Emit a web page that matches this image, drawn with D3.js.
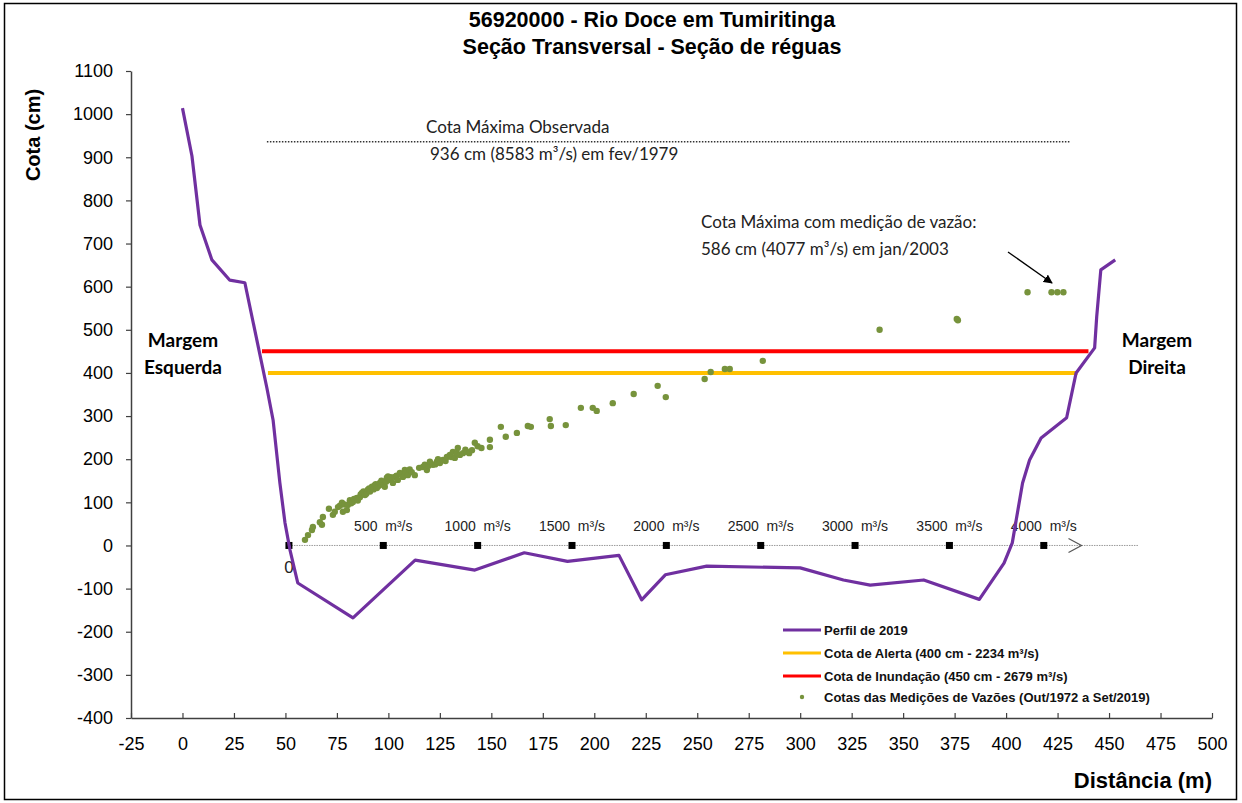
<!DOCTYPE html>
<html>
<head>
<meta charset="utf-8">
<script src="https://cdn.jsdelivr.net/npm/d3@7"></script>
<style>
body { margin: 0; background: #fff; }
text { font-family: "Liberation Sans", Arial, sans-serif; }
.calibri { font-family: Lato, "Open Sans", sans-serif; }
</style>
</head>
<body>
<script>
// perfil transversal de 2019 (distancia em m, cota em cm)
var distancia = [0, 4.6, 8.5, 14.3, 23, 30.3, 41, 44, 47.3, 49.8, 52.2, 56, 82.8, 113, 142, 166, 187, 212, 223, 234.5, 254.6, 300, 321, 334, 360, 387, 399, 403, 408, 411.4, 417, 429.4, 434, 443, 444, 446, 453];
var cotaPerfil = [1014, 903, 743, 662, 615, 609, 365, 291, 145, 52, -10, -87, -168, -34, -57, -17, -37, -23, -126, -68, -48, -52, -80, -92, -80, -125, -41, 6, 145, 198, 249, 296, 400, 458, 530, 639, 662];

// medicoes de vazao: [vazao m3/s, cota cm]
var medicoes = [
  [85,13],[101,24],[122,36],[127,43],[164,54],[175,48],[180,66],[212,85],[233,71],[243,78],
  [260,89],[270,92],[281,99],[286,78],[295,95],[307,82],[312,94],[323,105],[330,98],[339,101],
  [345,108],[360,110],[365,104],[376,112],[380,118],[387,122],[395,125],[403,117],[410,120],[418,129],
  [425,132],[430,125],[440,136],[448,130],[455,140],[460,142],[466,133],[475,138],[482,145],[490,150],
  [498,147],[500,140],[508,136],[515,148],[519,157],[525,160],[535,152],[540,158],[551,145],[561,159],
  [570,162],[577,152],[588,168],[595,165],[604,159],[614,175],[620,170],[630,163],[640,176],[651,170],
  [667,163],[690,180],[710,182],[720,187],[731,175],[740,185],[747,194],[763,187],[775,188],[784,194],
  [790,200],[800,191],[816,198],[830,196],[837,205],[853,210],[860,205],[869,217],[879,203],[890,214],
  [895,226],[906,210],[922,214],[935,222],[943,217],[955,214],[970,221],[985,238],[1000,230],[1020,226],
  [1065,245],[1065,228],[1123,275],[1149,252],[1208,261],[1266,277],[1282,275],[1382,293],[1388,277],[1467,279],
  [1547,319],[1610,319],[1631,312],[1716,330],[1827,351],[1954,370],[1997,344],[2203,386],[2235,402],[2310,409],
  [2336,409],[2511,428],[3130,500],[3539,525],[3545,522],[3914,587],[4041,587],[4072,587],[4104,587]
];

var cotaAlerta = 400, cotaInundacao = 450, cotaMaxObs = 936;
var xTicks = [-25, 0, 25, 50, 75, 100, 125, 150, 175, 200, 225, 250, 275, 300, 325, 350, 375, 400, 425, 450, 475, 500];
var yTicks = [-400, -300, -200, -100, 0, 100, 200, 300, 400, 500, 600, 700, 800, 900, 1000, 1100];
var vazaoTicks = [500, 1000, 1500, 2000, 2500, 3000, 3500, 4000];

var W = 1242, H = 803;
var svg = d3.select("body").append("svg")
  .attr("width", W).attr("height", H);

svg.append("rect")
  .attr("x", 4.5).attr("y", 3.5).attr("width", 1232).attr("height", 796)
  .attr("fill", "none").attr("stroke", "#000").attr("stroke-width", 1.5);

var x = d3.scaleLinear().domain([-25, 500]).range([131, 1212]);
var y = d3.scaleLinear().domain([-400, 1100]).range([718, 71]);
// eixo das vazoes, desenhado sobre a cota zero
var xq = d3.scaleLinear().domain([0, 4000]).range([x(51.7), x(418.3)]);

var plain = function(d) { return String(d); };

// axes
var gx = svg.append("g").attr("transform", "translate(0," + y(-400) + ")")
  .call(d3.axisBottom(x).tickValues(xTicks).tickFormat(plain).tickSizeInner(-5).tickSizeOuter(0).tickPadding(19));
var gy = svg.append("g").attr("transform", "translate(" + x(-25) + ",0)")
  .call(d3.axisLeft(y).tickValues(yTicks).tickFormat(plain).tickSizeInner(5).tickSizeOuter(0).tickPadding(13));
[gx, gy].forEach(function(g) {
  g.select(".domain").attr("stroke", "#404040").attr("stroke-width", 1.5);
  g.selectAll(".tick line").attr("stroke", "#404040").attr("stroke-width", 1.2);
  g.selectAll(".tick text").attr("font-size", 18).attr("fill", "#000")
    .style("font-family", "'Liberation Sans', Arial, sans-serif");
});

// titles
svg.append("text").attr("x", 652).attr("y", 27).attr("text-anchor", "middle")
  .attr("font-size", 21.5).attr("font-weight", "bold").text("56920000 - Rio Doce em Tumiritinga");
svg.append("text").attr("x", 652).attr("y", 54).attr("text-anchor", "middle")
  .attr("font-size", 21.5).attr("font-weight", "bold").text("Seção Transversal - Seção de réguas");
svg.append("text").attr("transform", "translate(40,135) rotate(-90)").attr("text-anchor", "middle")
  .attr("font-size", 20).attr("font-weight", "bold").text("Cota (cm)");
svg.append("text").attr("x", 1212).attr("y", 788).attr("text-anchor", "end")
  .attr("font-size", 22).attr("font-weight", "bold").text("Distância (m)");

// cota maxima observada
svg.append("line")
  .attr("x1", x(41)).attr("x2", x(431)).attr("y1", y(cotaMaxObs)).attr("y2", y(cotaMaxObs))
  .attr("stroke", "#333").attr("stroke-width", 1.5).attr("stroke-dasharray", "1.5,1.5");
svg.append("text").attr("class", "calibri").attr("x", 426).attr("y", 133)
  .attr("font-size", 17).attr("fill", "#222").text("Cota Máxima Observada");
svg.append("text").attr("class", "calibri").attr("x", 430).attr("y", 160)
  .attr("font-size", 17).attr("fill", "#222").text("936 cm (8583 m³/s) em fev/1979");

// flow axis
svg.append("line")
  .attr("x1", xq(0)).attr("x2", xq(4500)).attr("y1", y(0)).attr("y2", y(0))
  .attr("stroke", "#999").attr("stroke-width", 1).attr("stroke-dasharray", "1.5,1");
svg.append("path")
  .attr("d", "M" + (xq(4200) - 13) + "," + (y(0) - 7) + "L" + xq(4200) + "," + y(0) + "L" + (xq(4200) - 13) + "," + (y(0) + 7))
  .attr("fill", "none").attr("stroke", "#555").attr("stroke-width", 1.2);
svg.selectAll(".qsq").data([0].concat(vazaoTicks)).enter().append("rect")
  .attr("x", function(d) { return xq(d) - 3.5; }).attr("y", y(0) - 3.5)
  .attr("width", 7).attr("height", 7).attr("fill", "#000");
svg.selectAll(".qlab").data(vazaoTicks).enter().append("text")
  .attr("x", function(d) { return xq(d); }).attr("y", 531).attr("text-anchor", "middle")
  .attr("font-size", 14).attr("fill", "#222")
  .text(function(d) { return d + "  m³/s"; }).attr("xml:space", "preserve");
svg.append("text").attr("x", xq(0)).attr("y", 573).attr("text-anchor", "middle")
  .attr("font-size", 17).attr("fill", "#222").text("0");

// alert / flood lines
svg.append("line")
  .attr("x1", x(38.6)).attr("x2", x(440)).attr("y1", y(cotaInundacao)).attr("y2", y(cotaInundacao))
  .attr("stroke", "#ff0000").attr("stroke-width", 4);
svg.append("line")
  .attr("x1", x(41.5)).attr("x2", x(434.7)).attr("y1", y(cotaAlerta)).attr("y2", y(cotaAlerta))
  .attr("stroke", "#ffc000").attr("stroke-width", 4);

// profile
var line = d3.line().x(function(d) { return x(d[0]); }).y(function(d) { return y(d[1]); });
svg.append("path").datum(d3.zip(distancia, cotaPerfil))
  .attr("d", line).attr("fill", "none").attr("stroke", "#7030a0").attr("stroke-width", 3.2)
  .attr("stroke-linejoin", "round");

// measurements
svg.selectAll(".med").data(medicoes).enter().append("circle")
  .attr("cx", function(d) { return xq(d[0]); })
  .attr("cy", function(d) { return y(d[1]); })
  .attr("r", 3.2).attr("fill", "#77933c");

// annotation max with discharge
svg.append("defs").append("marker").attr("id", "arr")
  .attr("viewBox", "0 0 10 10").attr("refX", 9).attr("refY", 5)
  .attr("markerWidth", 7).attr("markerHeight", 7).attr("orient", "auto")
  .append("path").attr("d", "M0,0L10,5L0,10Z").attr("fill", "#000");
svg.append("line").attr("x1", 1008).attr("y1", 252).attr("x2", 1052).attr("y2", 283)
  .attr("stroke", "#000").attr("stroke-width", 1.3).attr("marker-end", "url(#arr)");
svg.append("text").attr("class", "calibri").attr("x", 701).attr("y", 228)
  .attr("font-size", 17).attr("fill", "#222").text("Cota Máxima com medição de vazão:");
svg.append("text").attr("class", "calibri").attr("x", 701).attr("y", 255)
  .attr("font-size", 17).attr("fill", "#222").text("586 cm (4077 m³/s) em jan/2003");

// margem labels
[["Margem", 183, 347], ["Esquerda", 183, 374], ["Margem", 1157, 347], ["Direita", 1157, 374]].forEach(function(t) {
  svg.append("text").attr("class", "calibri").attr("x", t[1]).attr("y", t[2]).attr("text-anchor", "middle")
    .attr("font-size", 19).attr("font-weight", "bold").attr("fill", "#000").text(t[0]);
});

// legend
var legend = [
  { label: "Perfil de 2019", color: "#7030a0", type: "line" },
  { label: "Cota de Alerta (400 cm - 2234 m³/s)", color: "#ffc000", type: "line" },
  { label: "Cota de Inundação (450 cm - 2679 m³/s)", color: "#ff0000", type: "line" },
  { label: "Cotas das Medições de Vazões (Out/1972 a Set/2019)", color: "#77933c", type: "dot" }
];
var lg = svg.selectAll(".lg").data(legend).enter().append("g")
  .attr("transform", function(d, i) { return "translate(783," + [630, 653, 676, 697][i] + ")"; });
lg.filter(function(d) { return d.type == "line"; }).append("line")
  .attr("x1", 0).attr("x2", 38).attr("stroke", function(d) { return d.color; }).attr("stroke-width", 3);
lg.filter(function(d) { return d.type == "dot"; }).append("circle")
  .attr("cx", 19).attr("r", 2.2).attr("fill", function(d) { return d.color; });
lg.append("text").attr("x", 41).attr("dy", "0.35em").attr("font-size", 13).attr("font-weight", "bold")
  .attr("fill", "#111").text(function(d) { return d.label; });
</script>
</body>
</html>
